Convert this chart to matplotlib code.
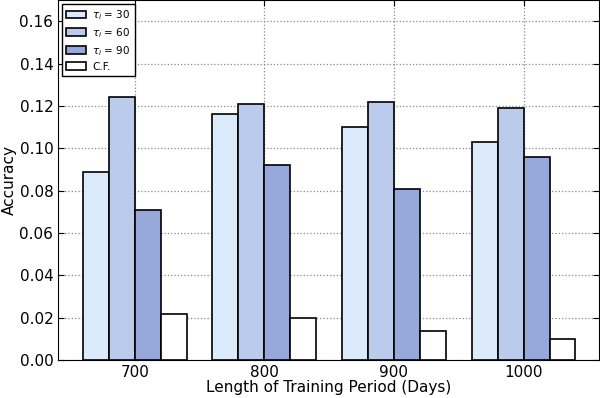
import numpy as np
import matplotlib.pyplot as plt

# accuracy per training period length
periods = ['700', '800', '900', '1000']
acc_tau30 = [0.089, 0.116, 0.110, 0.103]
acc_tau60 = [0.124, 0.121, 0.122, 0.119]
acc_tau90 = [0.071, 0.092, 0.081, 0.096]
acc_cf = [0.022, 0.020, 0.014, 0.010]

series = [acc_tau30, acc_tau60, acc_tau90, acc_cf]
labels = [r'$\tau_i$ = 30', r'$\tau_i$ = 60', r'$\tau_i$ = 90', 'C.F.']
colors = ['#DCEBFB', '#BBCBEC', '#97A9DA', '#FFFFFF']

fig = plt.figure(figsize=(6, 3.98), dpi=100)
ax = fig.add_axes([0.097, 0.095, 0.901, 0.905])

x = np.arange(len(periods))
width = 0.2
for i, (vals, lab, col) in enumerate(zip(series, labels, colors)):
    ax.bar(x + (i - 2) * width, vals, width, align='edge', color=col,
           edgecolor='black', linewidth=1.2, label=lab, zorder=3)

ax.set_xlim(-0.59, 3.58)
ax.set_ylim(0, 0.17)
ax.set_xticks(x)
ax.set_xticklabels(periods)
ax.set_yticks(np.arange(0, 0.161, 0.02))
ax.set_yticklabels(['%.2f' % v for v in np.arange(0, 0.161, 0.02)])
ax.tick_params(direction='in', top=True, right=True, labelsize=11, length=4)
ax.grid(True, linestyle=':', color='#888888', linewidth=0.9, zorder=0)
ax.set_axisbelow(True)

ax.set_xlabel('Length of Training Period (Days)', fontsize=11, labelpad=0)
ax.set_ylabel('Accuracy', fontsize=11, labelpad=2)

leg = ax.legend(loc='upper left', fontsize=7.5, fancybox=False, framealpha=1,
                borderaxespad=0.35, handlelength=1.9, handletextpad=0.6,
                labelspacing=0.4)
leg.get_frame().set_edgecolor('black')

fig.savefig('out.png', dpi=100)
